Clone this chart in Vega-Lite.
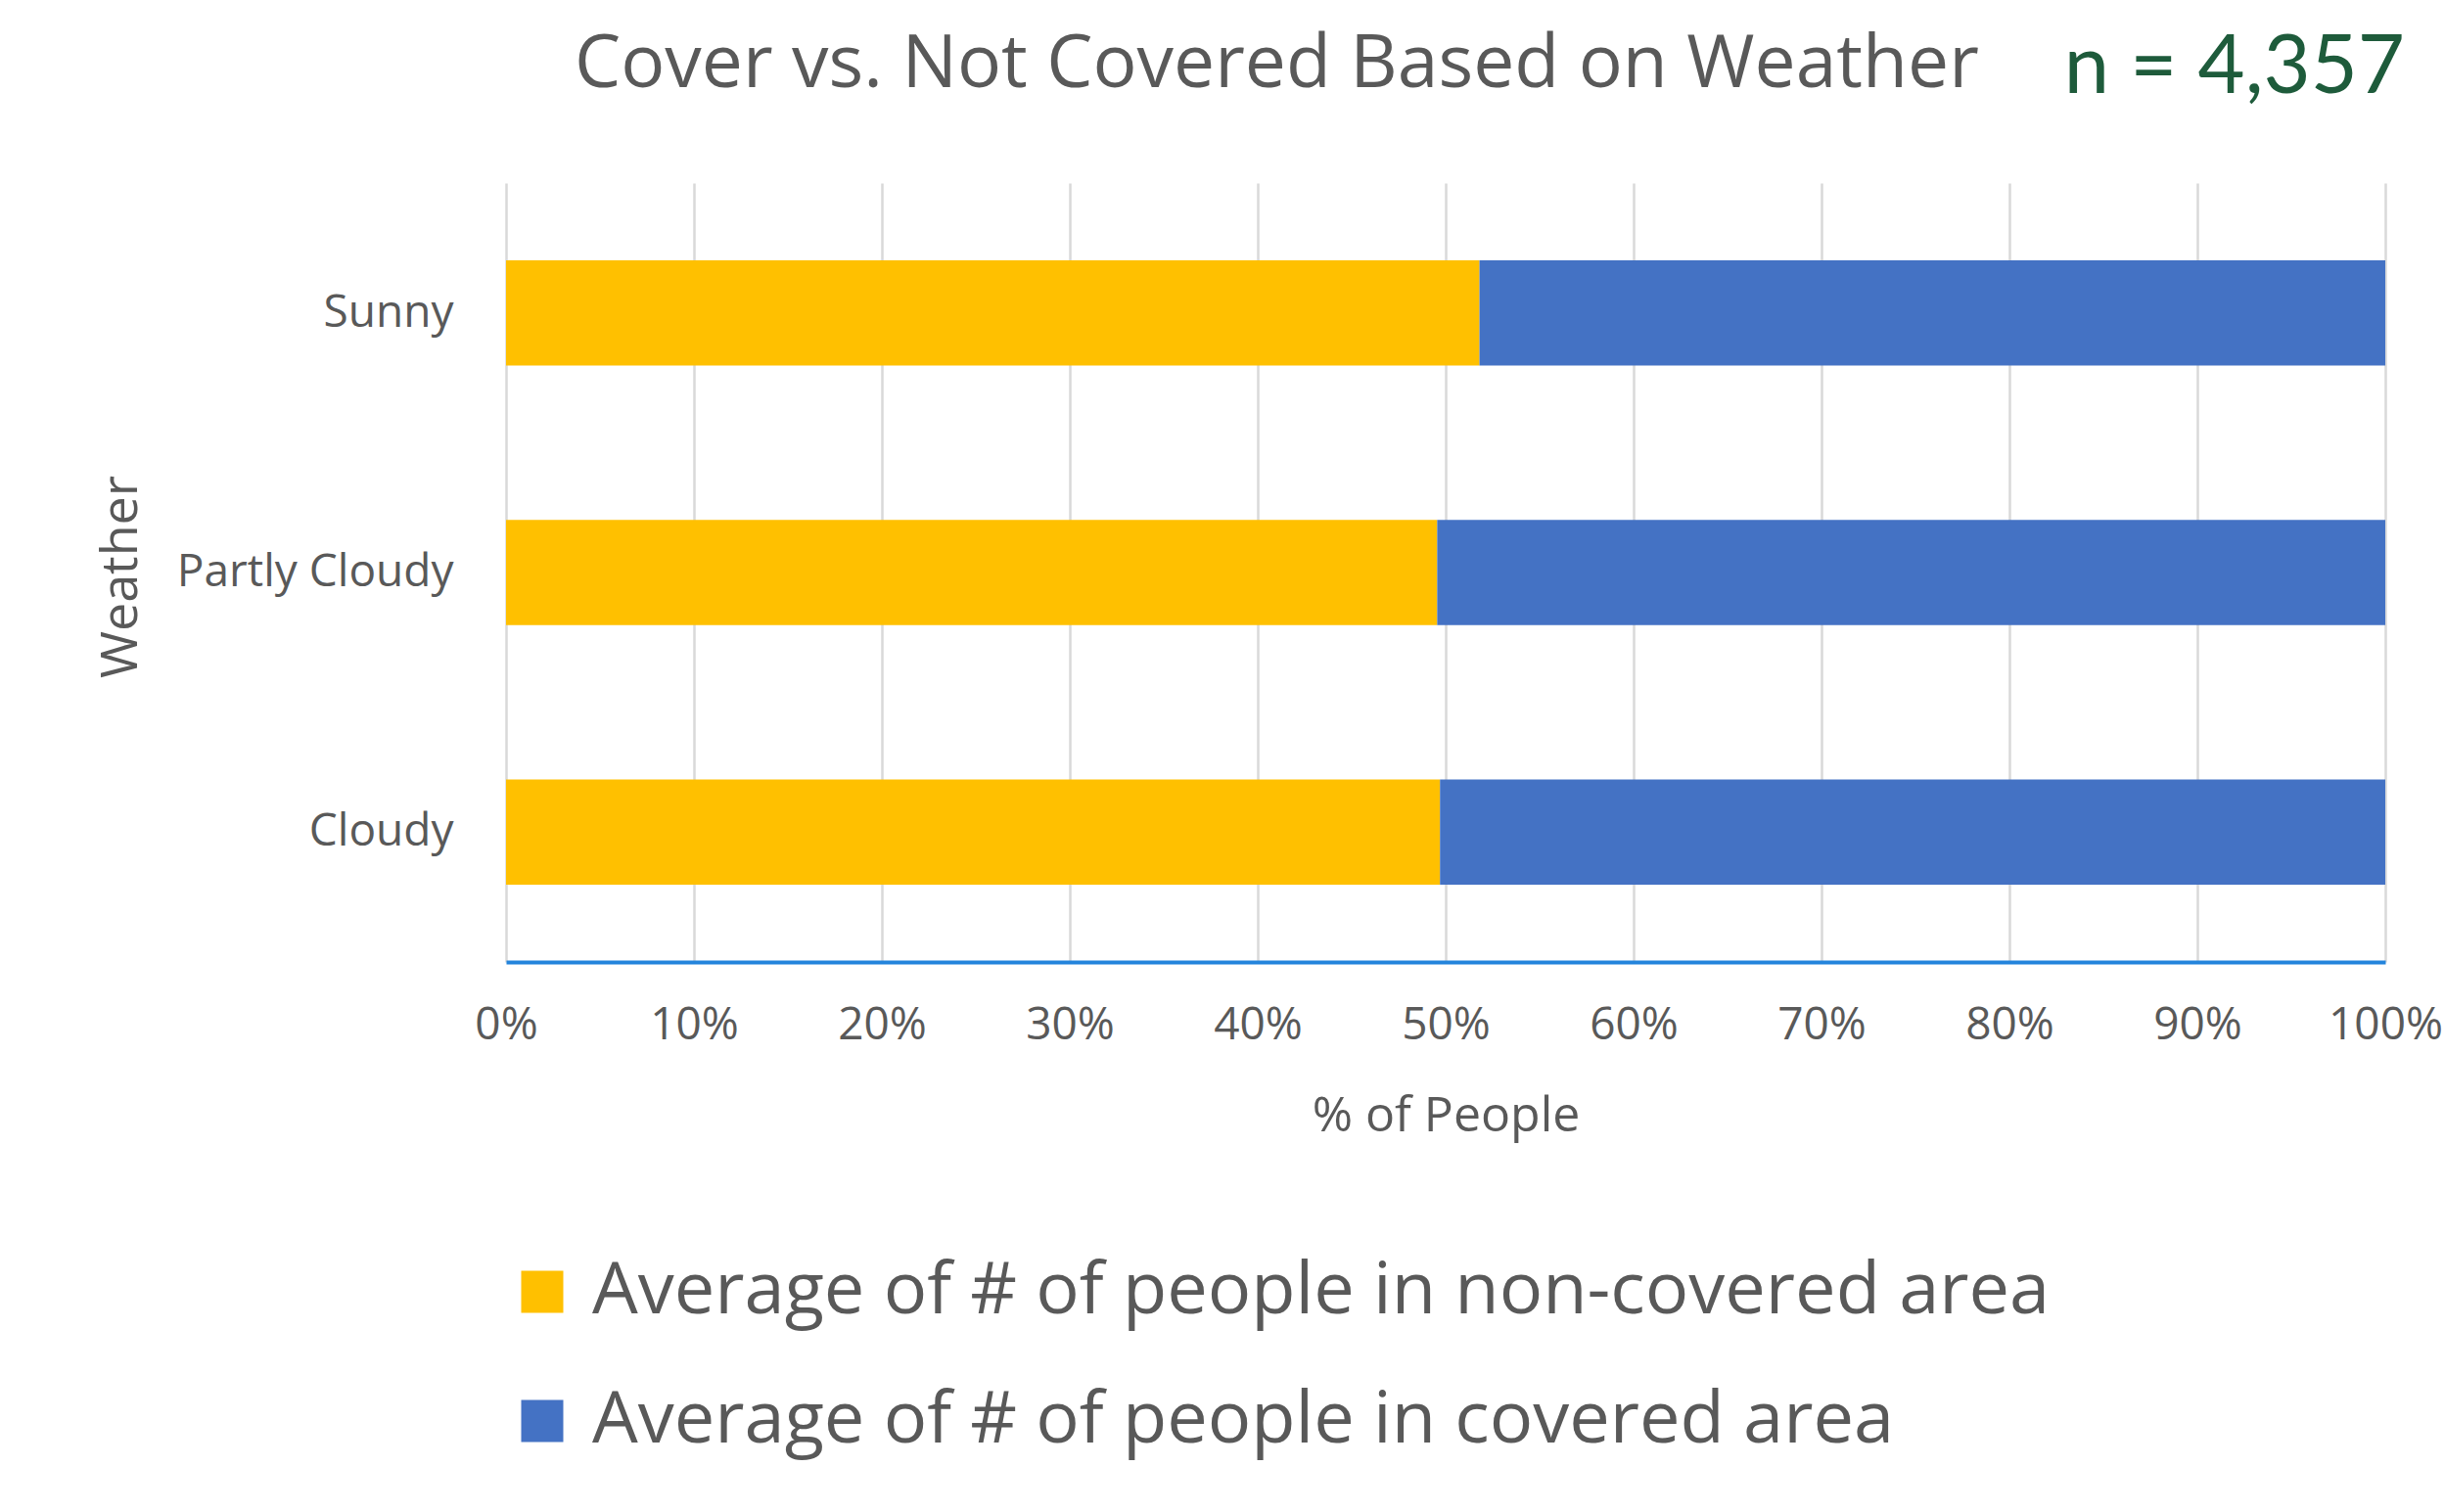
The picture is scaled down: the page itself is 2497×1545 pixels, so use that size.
{
  "$schema": "https://vega.github.io/schema/vega-lite/v6.json",
  "autosize": {"type": "none"},
  "width": 1920,
  "height": 796,
  "padding": {"left": 517, "top": 187, "right": 60, "bottom": 562},
  "background": "white",
  "config": {
    "font": "Open Sans",
    "view": {"stroke": null}
  },
  "title": {
    "text": "Cover vs. Not Covered Based on Weather",
    "anchor": "start",
    "frame": "group",
    "dx": 70,
    "offset": -135,
    "baseline": "alphabetic",
    "font": "Open Sans",
    "fontSize": 75,
    "fontWeight": "normal",
    "color": "#595959"
  },
  "datasets": {
    "shares": [
      {"weather": "Sunny", "series": "Average of # of people in non-covered area", "pct": 51.8},
      {"weather": "Sunny", "series": "Average of # of people in covered area", "pct": 48.2},
      {"weather": "Partly Cloudy", "series": "Average of # of people in non-covered area", "pct": 49.55},
      {"weather": "Partly Cloudy", "series": "Average of # of people in covered area", "pct": 50.45},
      {"weather": "Cloudy", "series": "Average of # of people in non-covered area", "pct": 49.7},
      {"weather": "Cloudy", "series": "Average of # of people in covered area", "pct": 50.3}
    ],
    "note": [{"label": "n = 4,357"}]
  },
  "layer": [
    {
      "data": {"name": "shares"},
      "mark": {"type": "bar"},
      "encoding": {
        "y": {
          "field": "weather",
          "type": "nominal",
          "sort": ["Sunny", "Partly Cloudy", "Cloudy"],
          "scale": {"paddingInner": 0.595, "paddingOuter": 0.2975},
          "axis": {
            "title": "Weather",
            "domain": false,
            "ticks": false,
            "labelFont": "Open Sans",
            "labelFontSize": 46,
            "labelColor": "#595959",
            "labelPadding": 54,
            "labelLimit": 600,
            "titleFont": "Open Sans",
            "titleFontSize": 52,
            "titleFontWeight": "normal",
            "titleColor": "#595959",
            "titleAngle": -90,
            "titleAlign": "center",
            "titleBaseline": "middle",
            "titleX": -394,
            "titleY": 402
          }
        },
        "x": {
          "field": "pct",
          "type": "quantitative",
          "stack": "zero",
          "scale": {"domain": [0, 100], "nice": false},
          "axis": {
            "title": "% of People",
            "values": [0, 10, 20, 30, 40, 50, 60, 70, 80, 90, 100],
            "labelExpr": "datum.value + '%'",
            "grid": true,
            "gridColor": "#D9D9D9",
            "gridWidth": 2.5,
            "domainColor": "#2384DC",
            "domainWidth": 4,
            "ticks": false,
            "labelFont": "Open Sans",
            "labelFontSize": 46,
            "labelColor": "#595959",
            "labelPadding": 42,
            "labelFlush": false,
            "titleFont": "Open Sans",
            "titleFontSize": 50,
            "titleFontWeight": "normal",
            "titleColor": "#595959",
            "titleBaseline": "middle",
            "titleY": 157
          }
        },
        "color": {
          "field": "series",
          "type": "nominal",
          "scale": {
            "domain": ["Average of # of people in non-covered area", "Average of # of people in covered area"],
            "range": ["#FFC000", "#4472C4"]
          },
          "legend": {
            "title": null,
            "orient": "none",
            "legendX": 0,
            "legendY": 1096,
            "direction": "vertical",
            "padding": 0,
            "symbolType": "square",
            "symbolSize": 1850,
            "symbolStrokeWidth": 0,
            "labelFont": "Open Sans",
            "labelFontSize": 74,
            "labelColor": "#595959",
            "labelOffset": 14,
            "labelLimit": 2000,
            "rowPadding": 58
          }
        },
        "order": {"field": "series", "sort": "descending"}
      }
    },
    {
      "data": {"name": "note"},
      "mark": {
        "type": "text",
        "align": "right",
        "baseline": "alphabetic",
        "font": "Lato",
        "fontSize": 83,
        "color": "#1E5B3B",
        "dx": 20
      },
      "encoding": {
        "text": {"field": "label"},
        "x": {"datum": 100},
        "y": {"value": -92}
      }
    }
  ]
}
